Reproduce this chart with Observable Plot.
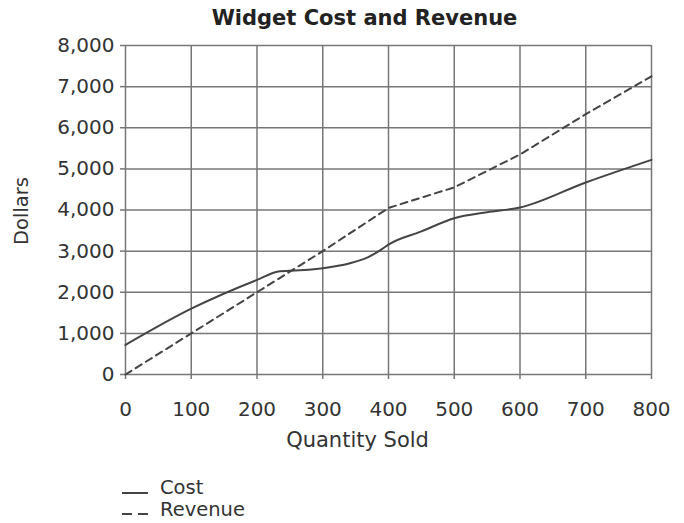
<!DOCTYPE html>
<html><head><meta charset="utf-8">
<script src="https://cdn.jsdelivr.net/npm/d3@7"></script>
<script src="https://cdn.jsdelivr.net/npm/@observablehq/plot@0.6"></script>
<style>
body{margin:0;background:#fff;font-family:"DejaVu Sans",Verdana,sans-serif;}
#wrap{position:relative;width:684px;height:523px;overflow:hidden;}
#chart{position:absolute;left:0;top:0;}
.lt{position:absolute;left:160px;font-size:19.5px;line-height:20px;color:#333;white-space:nowrap;}
.ls{position:absolute;height:2px;background:#444;}
</style></head><body>
<div id="wrap"><div id="chart"></div>
<div class="ls" style="left:122px;top:492px;width:26px;"></div>
<div class="lt" style="top:478px;">Cost</div>
<div class="ls" style="left:122px;top:513px;width:10px;"></div>
<div class="ls" style="left:138px;top:513px;width:10px;"></div>
<div class="lt" style="top:500px;">Revenue</div>
</div>
<script>
const titleText = "Widget Cost and Revenue";
const xLabel = "Quantity Sold";
const yLabel = "Dollars";
const xTicks = [0, 100, 200, 300, 400, 500, 600, 700, 800];
const yTicks = [0, 1000, 2000, 3000, 4000, 5000, 6000, 7000, 8000];
const costQty = [0, 100, 200, 235, 250, 300, 340, 370, 390, 400, 450, 500, 550, 600, 700, 800];
const costValues = [720, 1600, 2300, 2510, 2520, 2585, 2700, 2860, 3050, 3160, 3480, 3800, 3945, 4060, 4670, 5220];
const revenueQty = [0, 100, 200, 300, 400, 500, 600, 700, 800];
const revenueValues = [0, 1000, 2000, 3000, 4050, 4550, 5350, 6330, 7250];

const cost = costQty.map((q, i) => ({q, v: costValues[i]}));
const revenue = revenueQty.map((q, i) => ({q, v: revenueValues[i]}));

const gridColor = "#777";
const plot = Plot.plot({
  width: 684, height: 470,
  marginLeft: 125, marginRight: 33, marginTop: 45, marginBottom: 96,
  style: {fontFamily: "'DejaVu Sans', Verdana, sans-serif", fontSize: "20px", color: "#333", background: "white", overflow: "visible"},
  x: {domain: [0, 800], label: null},
  y: {domain: [0, 8000], label: null},
  marks: [
    Plot.gridX(xTicks, {stroke: gridColor, strokeOpacity: 1, strokeWidth: 1.5}),
    Plot.gridY(yTicks, {stroke: gridColor, strokeOpacity: 1, strokeWidth: 1.5}),
    Plot.axisX(xTicks, {tickSize: 5, tickPadding: 22, stroke: gridColor, strokeWidth: 1.5, fill: "#333", fontSize: 20, label: null}),
    Plot.axisY(yTicks, {tickSize: 5, tickPadding: 6, stroke: gridColor, strokeWidth: 1.5, fill: "#333", fontSize: 20, label: null}),
    Plot.line(cost, {x: "q", y: "v", curve: "monotone-x", stroke: "#444", strokeWidth: 2}),
    Plot.line(revenue, {x: "q", y: "v", stroke: "#444", strokeWidth: 2, strokeDasharray: "7,5"}),
    Plot.text([titleText], {text: d => d, frameAnchor: "top", lineAnchor: "middle", textAnchor: "middle", dy: -27, dx: -24, fontWeight: "bold", fontSize: 21, fill: "#222"}),
    Plot.text([xLabel], {text: d => d, frameAnchor: "bottom", lineAnchor: "middle", textAnchor: "middle", dy: 66, dx: -31, fontSize: 21, fill: "#333"}),
    Plot.text([yLabel], {text: d => d, frameAnchor: "left", lineAnchor: "middle", textAnchor: "middle", dx: -104, dy: 1, rotate: -90, fontSize: 19.5, fill: "#333"})
  ]
});
document.getElementById("chart").appendChild(plot);
</script>
</body></html>
